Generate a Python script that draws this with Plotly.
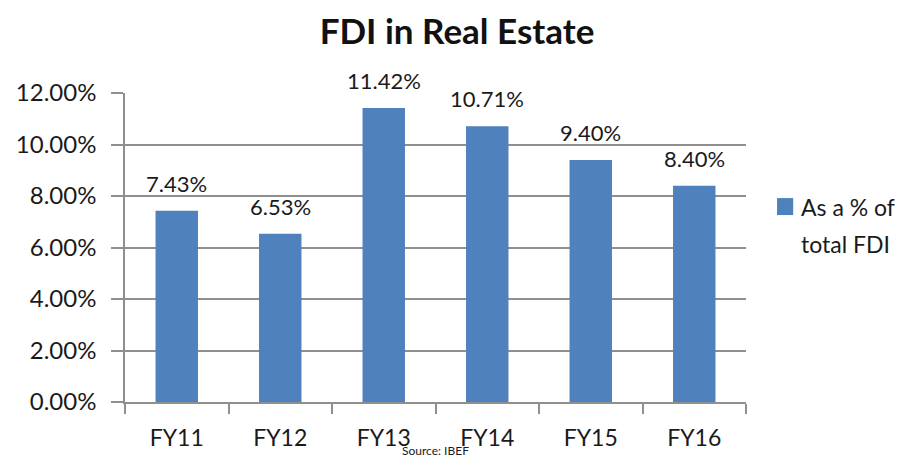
import plotly.graph_objects as go

categories = ["FY11", "FY12", "FY13", "FY14", "FY15", "FY16"]
values = [7.43, 6.53, 11.42, 10.71, 9.40, 8.40]
labels = ["7.43%", "6.53%", "11.42%", "10.71%", "9.40%", "8.40%"]
tick_vals = [0, 2, 4, 6, 8, 10, 12]
tick_text = ["0.00%", "2.00%", "4.00%", "6.00%", "8.00%", "10.00%", "12.00%"]
series_name = ["As a % of", "total FDI"]

FONT = "Lato, 'Open Sans', sans-serif"
GRID = "#8f8f8f"
BAR = "#4f81bd"
TXT = "#1a1a1a"

fig = go.Figure()
fig.add_trace(go.Bar(
    x=categories, y=values, name=" ".join(series_name),
    marker=dict(color=BAR, line=dict(width=0)),
    showlegend=False,
))

# data labels above bars
for c, v, t in zip(categories, values, labels):
    fig.add_annotation(x=c, y=v, xref="x", yref="y", text=t,
                       showarrow=False, yanchor="bottom", yshift=12,
                       font=dict(family=FONT, size=22, color=TXT))

fig.update_layout(
    width=909, height=458,
    margin=dict(l=117, r=171, t=85, b=64, autoexpand=False),
    paper_bgcolor="white", plot_bgcolor="white",
    title=dict(text="<b>FDI in Real Estate</b>", x=0.494, xanchor="center",
               y=0.948, yanchor="middle",
               font=dict(family=FONT, size=35, color="#111111")),
    bargap=0.59,
    showlegend=False,
    font=dict(family=FONT),
)
fig.update_xaxes(
    type="category", showline=True, linecolor=GRID, linewidth=1.5,
    ticks="outside", tickson="boundaries", ticklen=10, tickcolor=GRID,
    tickwidth=1.5,
    tickfont=dict(family=FONT, size=23, color=TXT),
    ticklabelstandoff=15, showgrid=False, automargin=False,
)
fig.update_yaxes(
    range=[0, 12], tickvals=tick_vals, ticktext=tick_text,
    showline=True, linecolor=GRID, linewidth=1.5,
    ticks="outside", ticklen=12, tickcolor=GRID, tickwidth=1.5,
    showgrid=True, gridcolor=GRID, gridwidth=1.5,
    tickfont=dict(family=FONT, size=24, color=TXT),
    ticklabelstandoff=10, zeroline=False, automargin=False,
)

# legend (square + two text lines)
fig.add_shape(type="rect", xref="paper", yref="paper",
              x0=1.050, x1=1.076, y0=0.605, y1=0.660,
              fillcolor=BAR, line=dict(width=0))
fig.add_annotation(text=series_name[0], xref="paper", yref="paper",
                   x=1.085, y=0.631, xanchor="left", yanchor="middle",
                   showarrow=False, font=dict(family=FONT, size=23, color=TXT))
fig.add_annotation(text=series_name[1], xref="paper", yref="paper",
                   x=1.085, y=0.511, xanchor="left", yanchor="middle",
                   showarrow=False, font=dict(family=FONT, size=23, color=TXT))

fig.add_annotation(text="Source: IBEF", xref="paper", yref="paper",
                   x=0.5, y=-0.183, xanchor="center", yanchor="bottom",
                   showarrow=False, borderpad=0,
                   font=dict(family=FONT, size=12, color=TXT))
fig.write_html("out.html")
